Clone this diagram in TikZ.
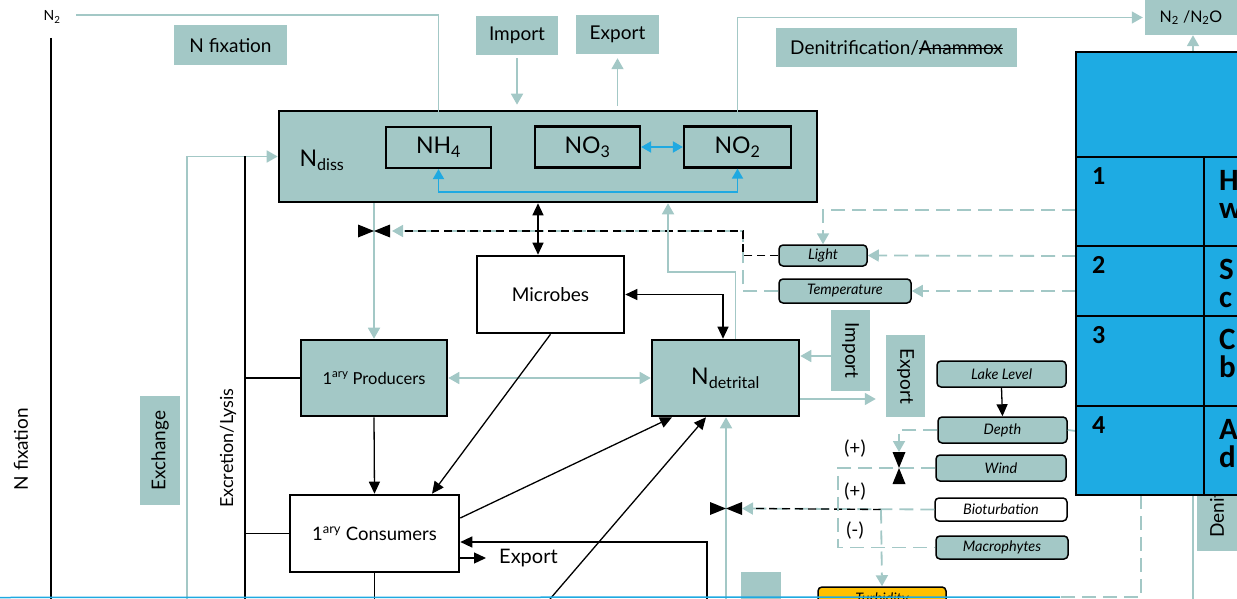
\documentclass[tikz,border=0pt]{standalone}
\usepackage{fontspec}
\setmainfont{Lato}
\newfontfamily\tabfont{Carlito}
\usetikzlibrary{arrows.meta,calc,positioning}
\definecolor{ndteal}{RGB}{163,200,198}
\definecolor{tabblue}{RGB}{30,171,227}
\definecolor{arrblue}{RGB}{31,169,225}
\definecolor{turbyel}{RGB}{255,192,0}
\newcommand{\fsz}[1]{\fontsize{#1}{#1}\selectfont}
\newcommand{\strikeout}[1]{\setbox0\hbox{#1}\rlap{\rule[0.28em]{\wd0}{0.9pt}}\box0}

\begin{document}
\begin{tikzpicture}[x=1pt,y=-1pt,
    tbox/.style={fill=ndteal,inner sep=0pt,font=\fsz{19}},
    pool/.style={draw=black,line width=2.6pt,inner sep=0pt,font=\fsz{16}},
    ion/.style={draw=black,line width=2.2pt,inner sep=0pt,minimum height=41pt,font=\fsz{23}},
    driver/.style={draw=black,line width=1.5pt,rounded corners=4pt,fill=ndteal,inner sep=0pt,font=\itshape\fsz{14.5}},
    flow/.style={draw=ndteal,line width=1.8pt},
    flowarr/.style={flow,-{Triangle[length=11pt,width=12pt]}},
    flowboth/.style={flow,{Triangle[length=11pt,width=12pt]}-{Triangle[length=11pt,width=12pt]}},
    ctrl/.style={draw=ndteal,line width=1.8pt,dash pattern=on 14pt off 7pt},
    ctrlarr/.style={ctrl,-{Triangle[length=11pt,width=12pt]}},
    link/.style={draw=black,line width=1.3pt},
    linkarr/.style={link,-{Triangle[length=12pt,width=11pt]}},
    linkboth/.style={link,{Triangle[length=12pt,width=11pt]}-{Triangle[length=12pt,width=11pt]}},
    bluearr/.style={draw=arrblue,line width=1.8pt,{Triangle[length=10pt,width=11pt]}-{Triangle[length=10pt,width=11pt]}},
    sign/.style={font=\fsz{19}},
    valve/.pic={\fill[black] (-16,-6.5) -- (0,0) -- (-16,6.5) -- cycle (16,-6.5) -- (0,0) -- (16,6.5) -- cycle;}
]
    \useasboundingbox (0,0) rectangle (1237,599);
    \clip (0,0) rectangle (1237,599);

    % sources and sinks
    \node[font=\fsz{14}] (ntwo) at (52,17) {N\textsubscript{2}};
    \node[tbox,minimum width=113pt,minimum height=40pt] (nfix) at (230.5,45.5) {N fixation};
    \node[tbox,minimum width=82pt,minimum height=39pt] (imp) at (517,35.5) {Import};
    \node[tbox,minimum width=83pt,minimum height=39pt] (exp) at (617.5,34.5) {Export};
    \node[tbox,minimum width=241pt,minimum height=39pt] (denit) at (896.5,47.5) {Denitrification/\strikeout{Anammox}};
    \node[tbox,minimum width=92pt,minimum height=35pt,font=\fsz{16}] (ntwoo) at (1191,17.5) {N\textsubscript{2} /N\textsubscript{2}O};
    \node[tbox,rotate=90,anchor=west,minimum height=40pt,inner xsep=13pt] (deni) at (1217,551) {Denitrification};

    % pools
    \node[pool,fill=ndteal,minimum width=538pt,minimum height=91pt] (ndiss) at (548,156.5) {};
    \node[font=\fsz{23}] (ndisslbl) at (322,160) {N\textsubscript{diss}};
    \node[ion,minimum width=105pt] (nhfour) at (438.5,147.5) {NH\textsubscript{4}};
    \node[ion,minimum width=105pt] (nothree) at (587.5,147) {NO\textsubscript{3}};
    \node[ion,minimum width=107pt] (notwo) at (737.5,147) {NO\textsubscript{2}};
    \node[pool,fill=white,minimum width=147pt,minimum height=77pt,font=\fsz{19}] (micro) at (550.5,294.5) {Microbes};
    \node[pool,fill=ndteal,minimum width=146pt,minimum height=76pt,font=\fsz{16.5}] (prod) at (374,378) {1\textsuperscript{ary} Producers};
    \node[pool,fill=ndteal,minimum width=147pt,minimum height=76pt,font=\fsz{23}] (ndet) at (725.5,378) {N\textsubscript{detrital}};
    \node[pool,fill=white,minimum width=169pt,minimum height=77pt,font=\fsz{18.5}] (cons) at (374.5,533.5) {1\textsuperscript{ary} Consumers};
    \node[font=\fsz{20},anchor=west,inner sep=0pt] (expc) at (499,558) {Export};
    \node[tbox,rotate=-90,minimum width=81pt,minimum height=39pt] (impv) at (850.5,350.5) {Import};
    \node[tbox,rotate=-90,minimum width=82pt,minimum height=39pt] (expv) at (905.5,376) {Export};
    \node[tbox,rotate=90,minimum width=109pt,minimum height=40pt] (exch) at (160,450.5) {Exchange};
    \node[rotate=90,font=\fsz{18}] (excr) at (228,448) {Excretion/Lysis};
    \node[rotate=90,font=\fsz{19}] (nfixv) at (21,449) {N fixation};
    \node[fill=ndteal,minimum width=40pt,minimum height=40pt,inner sep=0pt,anchor=north west] (stub) at (741,572) {};

    % drivers
    \node[driver,minimum width=88pt,minimum height=21pt] (light) at (823,255.5) {Light};
    \node[driver,minimum width=132pt,minimum height=24pt] (temp) at (845,291) {Temperature};
    \node[driver,minimum width=129pt,minimum height=26pt] (lake) at (1001.5,374) {Lake Level};
    \node[driver,minimum width=129pt,minimum height=26pt] (depth) at (1002.5,430) {Depth};
    \node[driver,minimum width=130pt,minimum height=26pt] (wind) at (1001,468) {Wind};
    \node[driver,fill=white,minimum width=132pt,minimum height=23pt] (biot) at (1001,509.5) {Bioturbation};
    \node[driver,minimum width=132pt,minimum height=23pt] (macro) at (1002,547.5) {Macrophytes};
    \node[driver,fill=turbyel,minimum width=128pt,minimum height=24pt] (turb) at (882,599) {Turbidity};
    \node[sign] (wplus) at (855,449) {(+)};
    \node[sign] (bplus) at (855,492) {(+)};
    \node[sign] (mminus) at (855,531) {(-)};

    % fixation, exchange and excretion
    \coordinate (nfixtop) at (51,38);
    \coordinate (nfixbot) at (51,599);
    \draw[link] (nfixtop) -- (nfixbot);
    \coordinate (ntwoout) at (76,15);
    \draw[flow,line width=1.5pt] (ntwoout) -| (nhfour.north);
    \coordinate (exbot) at (187,599);
    \draw[flowarr] (exbot) |- (ndiss.west);
    \coordinate (lysbot) at (245,599);
    \draw[link] (lysbot) -- (lysbot |- ndiss.west);
    \draw[link] (prod.west) -- (prod.west -| lysbot);
    \draw[link] (cons.west) -- (cons.west -| lysbot);

    % import / export of dissolved N
    \draw[flowarr,shorten <=3pt,shorten >=5pt] (imp.south) -- (imp.south |- ndiss.north);
    \draw[flowarr,shorten <=4pt,shorten >=4pt] (exp.south |- ndiss.north) -- (exp.south);
    \draw[flowarr,line width=1.5pt,shorten >=2pt] (notwo.north) |- (ntwoo.west);
    \coordinate (dnbot) at (1193,599);
    \draw[flowarr] (dnbot) -- (dnbot |- ntwoo.south);

    % transformations
    \draw[bluearr] (nothree.east) -- (notwo.west);
    \draw[bluearr] (nhfour.south) -- ++(0,23) -| (notwo.south);

    % uptake with light and temperature control
    \coordinate (vupt) at (374,231);
    \draw[flowarr] (ndiss.south -| prod.north) -- (prod.north);
    \pic at (vupt) {valve};
    \coordinate (lmerge) at (743,231);
    \draw[ctrlarr] (temp.west) -| (lmerge) -- ([xshift=18pt]vupt);
    \draw[link,dash pattern=on 8pt off 5pt] (light.west) -| (lmerge) -- ([xshift=30pt]vupt);

    % microbes
    \draw[linkboth] ([xshift=-12.5pt]micro.north) -- ([xshift=-12.5pt]micro.north |- ndiss.south);
    \draw[linkboth] (micro.east) -| ([xshift=-2.5pt]ndet.north);

    % detritus
    \coordinate (dtup) at (668,272);
    \draw[flowarr] ([xshift=10pt]ndet.north) |- (dtup) -- (dtup |- ndiss.south);
    \draw[flowboth] (prod.east) -- (ndet.west);
    \draw[flowarr] ([yshift=-5.5pt]impv.south) -- ([yshift=-5.5pt]impv.south -| ndet.east);
    \draw[flowarr,shorten >=10pt] ([yshift=-21pt]ndet.east) -- ([yshift=-21pt]ndet.east -| expv.south);

    % consumers
    \draw[linkarr] (micro.south) -- ([xshift=57.5pt]cons.north);
    \draw[linkarr] (prod.south) -- (cons.north);
    \draw[linkarr] ([yshift=15.5pt]cons.east) -- ([xshift=-53.5pt]ndet.south);
    \coordinate (lnbot) at (550,599);
    \draw[linkarr] (lnbot) -- ([xshift=-19.5pt]ndet.south);
    \coordinate (ctbot) at (707,599);
    \draw[linkarr] (ctbot) |- ([yshift=-8.5pt]cons.east);
    \draw[linkarr,shorten >=13pt] ([yshift=-24.5pt]cons.east) -- (expc.west);
    \coordinate (cobot) at (374.5,599);
    \draw[link] (cons.south) -- (cobot);

    % resuspension
    \coordinate (tdbot) at (726,599);
    \coordinate (vres) at (726,508.5);
    \draw[flowarr] (tdbot) -- (tdbot |- ndet.south);
    \pic at (vres) {valve};
    \coordinate (bmid) at (881,509.5);
    \draw[ctrlarr] (biot.west) -- ([xshift=16pt]vres);
    \draw[link,dash pattern=on 8pt off 5pt] (bmid) -- ([xshift=30pt]vres);
    \draw[ctrlarr] (bmid) -- (turb.north);
    \coordinate (vwind) at (899,468);
    \draw[ctrlarr] (depth.west) -| ([yshift=16pt]vwind);
    \coordinate (wcorner) at (838,547);
    \draw[ctrl] (wind.west) -| (wcorner) |- (macro.west);
    \pic[rotate=90] at (vwind) {valve};
    \draw[linkarr] (lake.south) -- (depth.north);

    % links to the table
    \coordinate (tabone) at (1076,210);
    \coordinate (tabtwo) at (1076,256);
    \coordinate (tabthree) at (1076,291);
    \coordinate (tabfour) at (1076,431);
    \draw[ctrlarr] (tabone) -| (light.north);
    \draw[ctrlarr] (tabtwo) -- (light.east);
    \draw[ctrlarr] (tabthree) -- (temp.east);
    \draw[flow] (depth.east) -- (tabfour);
    \coordinate (tabbot) at (1141,495);
    \coordinate (tabcorner) at (1141,597);
    \coordinate (tabend) at (1060,597);
    \draw[ctrl,line width=1.2pt] (tabbot) -- (tabcorner) -- (tabend);
    \draw[arrblue,line width=1.5pt] (0,597.5) -- (tabend);

    % table
    \fill[tabblue] (1076,52) rectangle (1250,495);
    \draw[black,line width=2pt] (1076,52) rectangle (1250,495);
    \foreach \y in {157,246,316,406}
        \draw[black,line width=2pt] (1076,\y) -- (1250,\y);
    \draw[black,line width=2pt] (1204,157) -- (1204,495);
    \foreach \n/\top/\a/\b in {1/157/H/w,2/246/S/c,3/316/C/b,4/406/A/d}{
        \node[anchor=base west,inner sep=0pt,font=\tabfont\bfseries\fsz{26}] (num\n) at (1092,{\top+27}) {\n};
        \node[anchor=base west,inner sep=0pt,font=\tabfont\bfseries\fsz{31}] (rowa\n) at (1219,{\top+33}) {\a};
        \node[anchor=base west,inner sep=0pt,font=\tabfont\bfseries\fsz{31}] (rowb\n) at (1219,{\top+61}) {\b};
    }
\end{tikzpicture}
\end{document}
